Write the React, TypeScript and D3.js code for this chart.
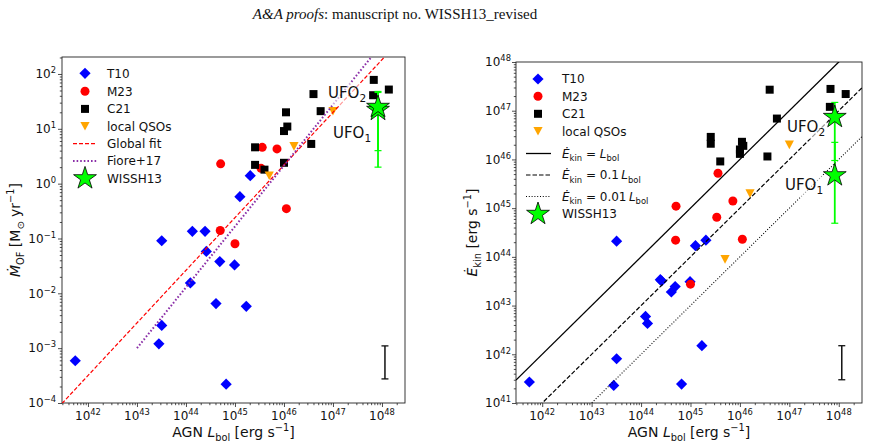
import React, { useEffect, useRef } from "react";
import * as d3 from "d3";

// T10 sample
const t10Lbol = [3.2e43, 1.35e44, 2.45e44, 1.26e45, 2.05e45, 2.6e44, 4.9e44, 9.8e44, 1.23e44, 4.1e44, 1.7e45, 3.2e43, 2.8e43, 5.5e41, 6.6e44];
const t10Mdot = [0.091, 0.135, 0.135, 0.58, 1.4, 0.058, 0.038, 0.033, 0.0155, 0.0065, 0.0058, 0.0026, 0.0012, 0.00059, 0.00022];
const t10Ekin = [2.1e44, 4.3e42, 3.4e43, 1.7e44, 2.2e44, 3.2e43, 2.45e43, 3.1e43, 6.0e42, 1.9e43, 1.5e42, 8.1e41, 2.3e41, 2.7e41, 2.45e41];

// M23 sample
const m23Lbol = [5.1e44, 3.6e45, 7.2e45, 1.12e46, 5.0e44, 1.0e45, 3.4e45];
const m23Mdot = [2.3, 4.6, 4.3, 0.35, 0.14, 0.08, 1.9];
const m23Ekin = [1.1e45, 5.2e45, 1.4e45, 2.3e44, 2.2e44, 2.75e43, 6.5e44];

// C21 sample
const c21Lbol = [6.8e47, 1.38e48, 6.6e47, 4.0e46, 5.6e46, 1.1e46, 1.17e46, 1.0e46, 3.6e46, 2.57e45, 2.57e45, 4.0e45, 1.0e46];
const c21Mdot = [78, 52, 41, 43, 21, 20, 11, 9.1, 5.3, 4.6, 2.2, 1.8, 2.4];
const c21Ekin = [2.8e47, 2.2e47, 1.2e47, 2.7e47, 6.9e46, 2.3e46, 1.9e46, 1.6e46, 1.15e46, 2.9e46, 2.1e46, 9.1e45, 1.3e46];

// local QSOs
const qsoLbol = [5.0e45, 1.6e46, 1.0e47];
const qsoMdot = [1.4, 4.8, 21];
const qsoEkin = [8.9e43, 2.0e45, 2.0e46];

// WISSH13 UFO components
const ufoSub = ["1", "2"];
const ufoLbol = [8.3e47, 8.3e47];
const ufoMdot = [22, 25];
const ufoMdotLo = [2.0, 4.0];
const ufoMdotHi = [46, 48];
const ufoEkin = [4.7e45, 7.4e46];
const ufoEkinLo = [4.9e44, 9.5e45];
const ufoEkinHi = [2.24e46, 1.48e47];

// scaling relations
const globalFitSlope = 0.96;
const globalFitLogAt45 = -0.62;
const fioreSlope = 1.11;
const fioreLogAt43 = -3.0;
const fioreLmin = 1e43;
const ekinFractions = [1, 0.1, 0.01];

// typical uncertainty
const typErrL = 1.15e48;
const typErrMdot = [2.75e-4, 1.1e-3];
const typErrEkin = [3.0e41, 1.5e42];

// axes
const xDomain = [2.95e41, 2.95e48];
const mdotDomain = [1e-4, 204];
const ekinDomain = [1e41, 1e48];
const xTickExp = [42, 43, 44, 45, 46, 47, 48];
const mdotTickExp = [-4, -3, -2, -1, 0, 1, 2];
const ekinTickExp = [41, 42, 43, 44, 45, 46, 47, 48];

const W = 869;
const H = 447;
const FONT = "DejaVu Sans, sans-serif";
const SPINE = "#222";

type Part = { t: string; s?: "i" | "sub" | "sup" };

// text with italic / sub / superscript pieces
function rich(sel: any, parts: Part[], size: number) {
  let shift = 0;
  parts.forEach((p) => {
    const target = p.s === "sub" ? size * 0.28 : p.s === "sup" ? -size * 0.42 : 0;
    const ts = sel.append("tspan").attr("dy", target - shift).text(p.t);
    shift = target;
    if (p.s === "sub" || p.s === "sup") ts.attr("font-size", size * 0.7);
    if (p.s === "i") ts.attr("font-style", "italic");
  });
}

const expLabel = (e: number): Part[] => [
  { t: "10" },
  { t: String(e).replace("-", "\u2212"), s: "sup" },
];

function starPath(r: number) {
  const ri = r * 0.381966;
  const pts: string[] = [];
  for (let i = 0; i < 10; i++) {
    const a = -Math.PI / 2 + (i * Math.PI) / 5;
    const rr = i % 2 === 0 ? r : ri;
    pts.push(`${(rr * Math.cos(a)).toFixed(2)},${(rr * Math.sin(a)).toFixed(2)}`);
  }
  return "M" + pts.join("L") + "Z";
}

const markerPath: Record<string, string> = {
  diamond: "M0,-5.6L5.6,0L0,5.6L-5.6,0Z",
  circle: "M4.5,0A4.5,4.5 0 1,1 -4.5,0A4.5,4.5 0 1,1 4.5,0Z",
  square: "M-4,-4H4V4H-4Z",
  tri: "M-4.6,-4.2L4.6,-4.2L0,4.4Z",
  star: starPath(12),
};

function minorTicks(domain: number[]) {
  const out: number[] = [];
  const lo = Math.floor(Math.log10(domain[0]));
  const hi = Math.ceil(Math.log10(domain[1]));
  for (let e = lo; e <= hi; e++) {
    for (let m = 2; m <= 9; m++) {
      const v = m * Math.pow(10, e);
      if (v >= domain[0] && v <= domain[1]) out.push(v);
    }
  }
  return out;
}

function drawAxes(svg: any, box: any, x: any, y: any, yExp: number[], clipId: string, labelGap: number) {
  const g = svg.append("g");
  const xAxisG = g.append("g").attr("transform", `translate(0,${box.bottom})`);
  xAxisG.append("g").call(d3.axisBottom(x).tickValues(xTickExp.map((e) => Math.pow(10, e))).tickSize(4).tickSizeOuter(0).tickFormat(() => ""));
  xAxisG.append("g").call(d3.axisBottom(x).tickValues(minorTicks(xDomain)).tickSize(2.2).tickSizeOuter(0).tickFormat(() => ""));
  const yAxisG = g.append("g").attr("transform", `translate(${box.left},0)`);
  yAxisG.append("g").call(d3.axisLeft(y).tickValues(yExp.map((e) => Math.pow(10, e))).tickSize(4).tickSizeOuter(0).tickFormat(() => ""));
  yAxisG.append("g").call(d3.axisLeft(y).tickValues(minorTicks(y.domain())).tickSize(2.2).tickSizeOuter(0).tickFormat(() => ""));
  g.selectAll(".domain").remove();
  g.selectAll(".tick line").attr("stroke", SPINE).attr("stroke-width", 0.8);

  xTickExp.forEach((e) => {
    const t = g.append("text").attr("x", x(Math.pow(10, e))).attr("y", box.bottom + 17)
      .attr("text-anchor", "middle").attr("font-family", FONT).attr("font-size", 12).attr("fill", "#111");
    rich(t, expLabel(e), 12);
  });
  yExp.forEach((e) => {
    const t = g.append("text").attr("x", box.left - labelGap).attr("y", y(Math.pow(10, e)) + 4.3)
      .attr("text-anchor", "end").attr("font-family", FONT).attr("font-size", 12).attr("fill", "#111");
    rich(t, expLabel(e), 12);
  });

  // frame
  g.append("rect").attr("x", box.left).attr("y", box.top)
    .attr("width", box.right - box.left).attr("height", box.bottom - box.top)
    .attr("fill", "none").attr("stroke", SPINE).attr("stroke-width", 0.9);

  svg.append("clipPath").attr("id", clipId).append("rect")
    .attr("x", box.left).attr("y", box.top)
    .attr("width", box.right - box.left).attr("height", box.bottom - box.top);

  // x label
  const xl = svg.append("text").attr("x", (box.left + box.right) / 2).attr("y", 437)
    .attr("text-anchor", "middle").attr("font-family", FONT).attr("font-size", 14).attr("fill", "#111");
  rich(xl, [{ t: "AGN " }, { t: "L", s: "i" }, { t: "bol", s: "sub" }, { t: " [erg s" }, { t: "\u22121", s: "sup" }, { t: "]" }], 14);
}

function drawPoints(g: any, x: any, y: any, xs: number[], ys: number[], shape: string, color: string) {
  g.selectAll(null).data(xs).enter().append("path")
    .attr("d", markerPath[shape])
    .attr("transform", (d: number, i: number) => `translate(${x(d)},${y(ys[i])})`)
    .attr("fill", color);
}

function drawUfo(g: any, x: any, y: any, vals: number[], lo: number[], hi: number[]) {
  // green error bars then stars
  ufoLbol.forEach((l, i) => {
    const cx = x(l);
    g.append("line").attr("x1", cx).attr("x2", cx).attr("y1", y(lo[i])).attr("y2", y(hi[i]))
      .attr("stroke", "#00ff00").attr("stroke-width", 1.8);
    [lo[i], hi[i]].forEach((v) => {
      g.append("line").attr("x1", cx - 3.5).attr("x2", cx + 3.5).attr("y1", y(v)).attr("y2", y(v))
        .attr("stroke", "#00ff00").attr("stroke-width", 1.2);
    });
  });
  ufoLbol.forEach((l, i) => {
    g.append("path").attr("d", markerPath.star).attr("transform", `translate(${x(l)},${y(vals[i])})`)
      .attr("fill", "#00ff00").attr("stroke", "#000").attr("stroke-width", 0.8);
  });
}

function ufoLabel(g: any, px: number, py: number, sub: string) {
  const t = g.append("text").attr("x", px).attr("y", py).attr("font-family", FONT)
    .attr("font-size", 15).attr("fill", "#111");
  rich(t, [{ t: "UFO" }, { t: sub, s: "sub" }], 15);
  const bb = t.node().getBBox();
  g.insert("rect", () => t.node()).attr("x", bb.x - 2).attr("y", bb.y - 1)
    .attr("width", bb.width + 4).attr("height", bb.height + 2)
    .attr("fill", "#fff").attr("opacity", 0.6);
}

function typicalError(g: any, x: any, y: any, range: number[]) {
  const cx = x(typErrL);
  g.append("line").attr("x1", cx).attr("x2", cx).attr("y1", y(range[0])).attr("y2", y(range[1]))
    .attr("stroke", "#111").attr("stroke-width", 1.5);
  range.forEach((v) => {
    g.append("line").attr("x1", cx - 3.5).attr("x2", cx + 3.5).attr("y1", y(v)).attr("y2", y(v))
      .attr("stroke", "#111").attr("stroke-width", 1.3);
  });
}

function legendRow(g: any, lx: number, tx: number, ry: number, label: Part[], draw: (s: any) => void) {
  draw(g.append("g").attr("transform", `translate(${lx},${ry})`));
  const t = g.append("text").attr("x", tx).attr("y", ry + 4.3).attr("font-family", FONT)
    .attr("font-size", 12).attr("fill", "#111");
  rich(t, label, 12);
}

const App = () => {
  const svgRef = useRef<SVGSVGElement | null>(null);

  useEffect(() => {
    document.body.style.margin = "0";
    const svg = d3.select(svgRef.current);
    svg.selectAll("*").remove();
    svg.attr("width", W).attr("height", H).style("display", "block").style("background", "#fff");

    // page header
    const title = svg.append("text").attr("x", 395).attr("y", 19).attr("text-anchor", "middle")
      .attr("font-family", "Liberation Serif, Times New Roman, serif").attr("font-size", 15).attr("fill", "#111");
    title.append("tspan").attr("font-style", "italic").text("A&A proofs");
    title.append("tspan").text(": manuscript no. WISSH13_revised");

    // ---------- left: mass outflow rate ----------
    const boxL = { left: 62, right: 405, top: 57, bottom: 403 };
    const xL = d3.scaleLog().domain(xDomain).range([boxL.left, boxL.right]);
    const yL = d3.scaleLog().domain(mdotDomain).range([boxL.bottom, boxL.top]);
    drawAxes(svg, boxL, xL, yL, mdotTickExp, "clipL", 6);

    const yLab = svg.append("text").attr("transform", `translate(20,${(boxL.top + boxL.bottom) / 2}) rotate(-90)`)
      .attr("text-anchor", "middle").attr("font-family", FONT).attr("font-size", 14).attr("fill", "#111");
    rich(yLab, [{ t: "\u1E40", s: "i" }, { t: "OF", s: "sub" }, { t: " [M" }, { t: "\u2299", s: "sub" }, { t: " yr" }, { t: "\u22121", s: "sup" }, { t: "]" }], 14);

    const gL = svg.append("g").attr("clip-path", "url(#clipL)");
    drawPoints(gL, xL, yL, t10Lbol, t10Mdot, "diamond", "#0000ff");
    drawPoints(gL, xL, yL, m23Lbol, m23Mdot, "circle", "#ff0000");
    drawPoints(gL, xL, yL, c21Lbol, c21Mdot, "square", "#000");
    drawPoints(gL, xL, yL, qsoLbol, qsoMdot, "tri", "#ffa500");

    const fitL = xDomain;
    gL.append("path")
      .attr("d", d3.line<number>().x((l) => xL(l)).y((l) => yL(Math.pow(10, globalFitLogAt45 + globalFitSlope * (Math.log10(l) - 45))))(fitL))
      .attr("fill", "none").attr("stroke", "#ff0000").attr("stroke-width", 1.2).attr("stroke-dasharray", "4,2");
    const fioreL = [fioreLmin, xDomain[1]];
    gL.append("path")
      .attr("d", d3.line<number>().x((l) => xL(l)).y((l) => yL(Math.pow(10, fioreLogAt43 + fioreSlope * (Math.log10(l) - 43)))) (fioreL))
      .attr("fill", "none").attr("stroke", "#8b2fa8").attr("stroke-width", 2).attr("stroke-dasharray", "1.6,2");

    ufoLabel(gL, 328, 98, ufoSub[1]);
    ufoLabel(gL, 333, 138, ufoSub[0]);
    drawUfo(gL, xL, yL, ufoMdot, ufoMdotLo, ufoMdotHi);
    typicalError(gL, xL, yL, typErrMdot);

    const legL = svg.append("g");
    const rowsL = [73.3, 91.3, 108.9, 126.2, 143.6, 161, 178.4];
    legendRow(legL, 85, 107, rowsL[0], [{ t: "T10" }], (s) => s.append("path").attr("d", markerPath.diamond).attr("fill", "#0000ff"));
    legendRow(legL, 85, 107, rowsL[1], [{ t: "M23" }], (s) => s.append("path").attr("d", markerPath.circle).attr("fill", "#ff0000"));
    legendRow(legL, 85, 107, rowsL[2], [{ t: "C21" }], (s) => s.append("path").attr("d", markerPath.square).attr("fill", "#000"));
    legendRow(legL, 85, 107, rowsL[3], [{ t: "local QSOs" }], (s) => s.append("path").attr("d", markerPath.tri).attr("fill", "#ffa500"));
    legendRow(legL, 85, 107, rowsL[4], [{ t: "Global fit" }], (s) => s.append("line").attr("x1", -12).attr("x2", 12)
      .attr("stroke", "#ff0000").attr("stroke-width", 1.2).attr("stroke-dasharray", "4,2"));
    legendRow(legL, 85, 107, rowsL[5], [{ t: "Fiore+17" }], (s) => s.append("line").attr("x1", -12).attr("x2", 12)
      .attr("stroke", "#8b2fa8").attr("stroke-width", 2).attr("stroke-dasharray", "1.6,2"));
    legendRow(legL, 85, 107, rowsL[6], [{ t: "WISSH13" }], (s) => s.append("path").attr("d", markerPath.star)
      .attr("fill", "#00ff00").attr("stroke", "#000").attr("stroke-width", 0.8));

    // ---------- right: kinetic power ----------
    const boxR = { left: 516, right: 862, top: 62, bottom: 403 };
    const xR = d3.scaleLog().domain(xDomain).range([boxR.left, boxR.right]);
    const yR = d3.scaleLog().domain(ekinDomain).range([boxR.bottom, boxR.top]);
    drawAxes(svg, boxR, xR, yR, ekinTickExp, "clipR", 5);

    const yLabR = svg.append("text").attr("transform", `translate(477,${(boxR.top + boxR.bottom) / 2}) rotate(-90)`)
      .attr("text-anchor", "middle").attr("font-family", FONT).attr("font-size", 14).attr("fill", "#111");
    rich(yLabR, [{ t: "\u0116", s: "i" }, { t: "kin", s: "sub" }, { t: " [erg s" }, { t: "\u22121", s: "sup" }, { t: "]" }], 14);

    const gR = svg.append("g").attr("clip-path", "url(#clipR)");
    drawPoints(gR, xR, yR, t10Lbol, t10Ekin, "diamond", "#0000ff");
    drawPoints(gR, xR, yR, m23Lbol, m23Ekin, "circle", "#ff0000");
    drawPoints(gR, xR, yR, c21Lbol, c21Ekin, "square", "#000");
    drawPoints(gR, xR, yR, qsoLbol, qsoEkin, "tri", "#ffa500");

    const styles = [
      { dash: null, width: 1.3 },
      { dash: "4.5,2", width: 1.2 },
      { dash: "1,1.8", width: 1.1 },
    ];
    ekinFractions.forEach((f, i) => {
      const p = gR.append("path")
        .attr("d", d3.line<number>().x((l) => xR(l)).y((l) => yR(f * l))(xDomain))
        .attr("fill", "none").attr("stroke", "#000").attr("stroke-width", styles[i].width);
      if (styles[i].dash) p.attr("stroke-dasharray", styles[i].dash);
    });

    ufoLabel(gR, 787, 132, ufoSub[1]);
    ufoLabel(gR, 785, 190, ufoSub[0]);
    drawUfo(gR, xR, yR, ufoEkin, ufoEkinLo, ufoEkinHi);
    typicalError(gR, xR, yR, typErrEkin);

    const legR = svg.append("g");
    const rowsR = [79, 96.3, 113.8, 131.2, 153.5, 175, 196.5, 214];
    legendRow(legR, 538, 562, rowsR[0], [{ t: "T10" }], (s) => s.append("path").attr("d", markerPath.diamond).attr("fill", "#0000ff"));
    legendRow(legR, 538, 562, rowsR[1], [{ t: "M23" }], (s) => s.append("path").attr("d", markerPath.circle).attr("fill", "#ff0000"));
    legendRow(legR, 538, 562, rowsR[2], [{ t: "C21" }], (s) => s.append("path").attr("d", markerPath.square).attr("fill", "#000"));
    legendRow(legR, 538, 562, rowsR[3], [{ t: "local QSOs" }], (s) => s.append("path").attr("d", markerPath.tri).attr("fill", "#ffa500"));
    const fracText = ["", "0.1\u2009", "0.01\u2009"];
    ekinFractions.forEach((f, i) => {
      legendRow(legR, 538, 562, rowsR[4 + i],
        [{ t: "\u0116", s: "i" }, { t: "kin", s: "sub" }, { t: " = " + fracText[i] }, { t: "L", s: "i" }, { t: "bol", s: "sub" }],
        (s) => {
          const ln = s.append("line").attr("x1", -12).attr("x2", 13).attr("stroke", "#000").attr("stroke-width", styles[i].width);
          if (styles[i].dash) ln.attr("stroke-dasharray", styles[i].dash);
        });
    });
    legendRow(legR, 538, 562, rowsR[7], [{ t: "WISSH13" }], (s) => s.append("path").attr("d", markerPath.star)
      .attr("fill", "#00ff00").attr("stroke", "#000").attr("stroke-width", 0.8));
  }, []);

  return <svg ref={svgRef}></svg>;
};

export default App;
